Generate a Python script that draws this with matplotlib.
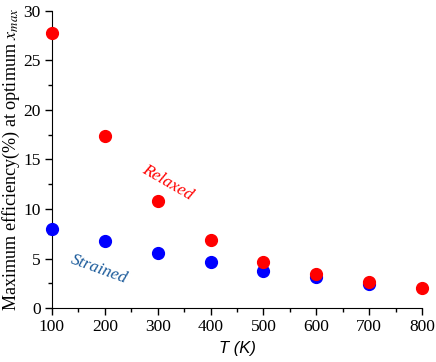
import matplotlib.pyplot as plt
from matplotlib.ticker import MultipleLocator

plt.rcParams['mathtext.fontset'] = 'stix'

T = [100, 200, 300, 400, 500, 600, 700, 800]
relaxed = [27.8, 17.4, 10.8, 6.85, 4.6, 3.4, 2.65, 2.05]
T_strained = [100, 200, 300, 400, 500, 600, 700]
strained = [8.0, 6.8, 5.6, 4.65, 3.75, 3.1, 2.42]

fig = plt.figure(figsize=(4.36, 3.62), dpi=100)
ax = fig.add_axes([0.119, 0.149, 0.849, 0.821])

ax.plot(T_strained, strained, 'o', color='#0000ff', ms=8.5, clip_on=False, zorder=3)
ax.plot(T, relaxed, 'o', color='#ff0000', ms=8.5, clip_on=False, zorder=4)

ax.set_xlim(100, 800)
ax.set_ylim(0, 30)
ax.xaxis.set_major_locator(MultipleLocator(100))
ax.xaxis.set_minor_locator(MultipleLocator(50))
ax.yaxis.set_major_locator(MultipleLocator(5))
ax.yaxis.set_minor_locator(MultipleLocator(2.5))
for s in ['top', 'right']:
    ax.spines[s].set_visible(False)
ax.tick_params(which='major', direction='out', length=5, width=1, pad=3)
ax.tick_params(which='minor', direction='out', length=3, width=1)
for lab in ax.get_xticklabels() + ax.get_yticklabels():
    lab.set_fontfamily('Liberation Serif')
    lab.set_fontsize(12.5)

ax.set_xlabel('T (K)', fontfamily='Liberation Sans', style='italic', fontsize=12, labelpad=4)
ax.set_ylabel(r'Maximum efficiency(%) at optimum $x_{max}$',
              fontfamily='Liberation Serif', fontsize=13.1)
ax.yaxis.set_label_coords(-0.082, 0.5)

ax.text(319, 12.7, 'Relaxed', color='#ff0000', rotation=-30, ha='center', va='center',
        fontfamily='Liberation Serif', style='italic', fontsize=12.5)
ax.text(189, 3.9, 'Strained', color='#1a5a9a', rotation=-20, ha='center', va='center',
        fontfamily='Liberation Serif', style='italic', fontsize=12.5)

fig.savefig('out.png', dpi=100)
